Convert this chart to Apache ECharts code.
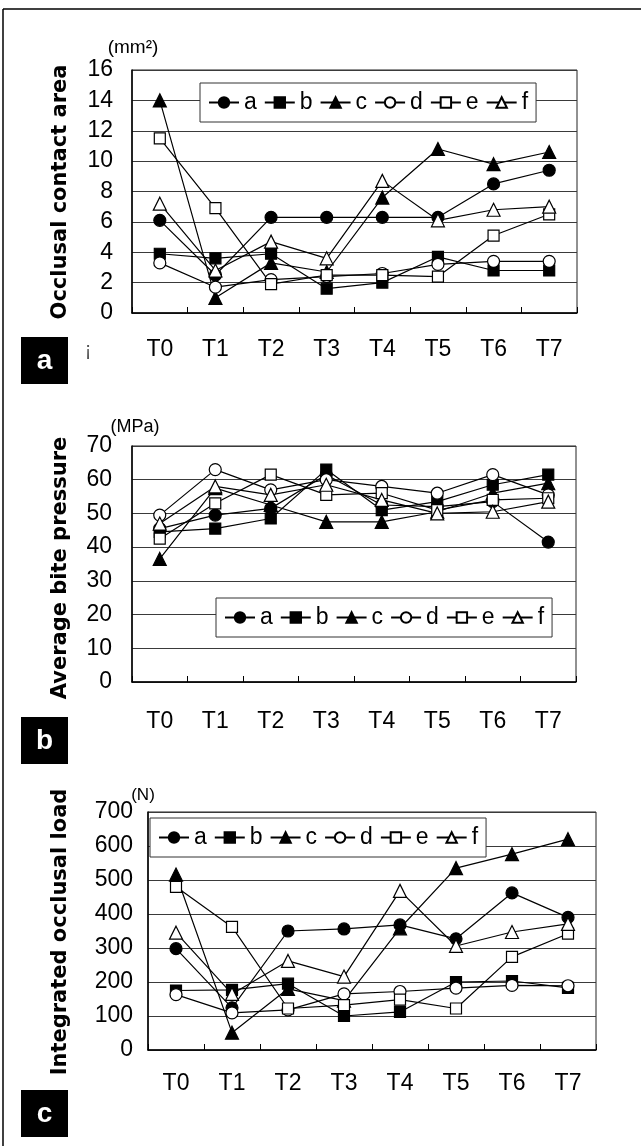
<!DOCTYPE html>
<html><head><meta charset="utf-8">
<script src="https://cdn.jsdelivr.net/npm/echarts@6/dist/echarts.min.js"></script>
<style>html,body{margin:0;padding:0;background:#fff}#c{width:641px;height:1146px}</style>
</head><body><div id="c"></div>
<script>
// ---- data ----
const categories = ['T0','T1','T2','T3','T4','T5','T6','T7'];
const seriesNames = ['a','b','c','d','e','f'];

// (a) Occlusal contact area (mm2)
const areaA = [6.1, 2.5, 6.3, 6.3, 6.3, 6.3, 8.5, 9.4];
const areaB = [3.9, 3.6, 3.9, 1.6, 2.0, 3.7, 2.8, 2.8];
const areaC = [14.0, 1.0, 3.3, 2.7, 7.6, 10.8, 9.8, 10.6];
const areaD = [3.3, 1.7, 2.2, 2.4, 2.6, 3.2, 3.4, 3.4];
const areaE = [11.5, 6.9, 1.9, 2.5, 2.5, 2.4, 5.1, 6.5];
const areaF = [7.2, 2.8, 4.7, 3.6, 8.7, 6.1, 6.8, 7.0];

// (b) Average bite pressure (MPa)
const pressA = [45.5, 49.5, 51.5, 61.5, 52.5, 52.0, 53.5, 41.5];
const pressB = [44.5, 45.5, 48.5, 63.0, 51.0, 53.5, 58.5, 61.5];
const pressC = [36.5, 57.5, 52.5, 47.5, 47.5, 50.5, 56.0, 59.0];
const pressD = [49.5, 63.0, 57.0, 60.0, 58.0, 56.0, 61.5, 55.5];
const pressE = [42.5, 53.0, 61.5, 55.5, 56.0, 51.0, 54.0, 54.5];
const pressF = [47.0, 58.0, 55.5, 58.5, 54.0, 50.0, 50.5, 53.5];

// (c) Integrated occlusal load (N)
const loadA = [298, 124, 350, 356, 368, 327, 462, 390];
const loadB = [175, 177, 195, 100, 112, 200, 203, 183];
const loadC = [516, 51, 180, 145, 358, 535, 576, 620];
const loadD = [163, 109, 118, 165, 172, 182, 190, 189];
const loadE = [480, 362, 122, 132, 148, 122, 274, 342];
const loadF = [345, 165, 262, 216, 468, 306, 347, 371];

const yTitles = ['Occlusal contact area', 'Average bite pressure', 'Integrated occlusal load'];
const units = ['(mm\u00B2)', '(MPa)', '(N)'];
const panelLetters = ['a', 'b', 'c'];

// ---- chart ----
const FONT = '"Liberation Sans", Arial, sans-serif';
const symbols = {a:'circle', b:'rect', c:'triangle', d:'circle', e:'rect', f:'triangle'};
const sizes = {circle:12, rect:11, triangle:13};
const fills = {a:'#000', b:'#000', c:'#000', d:'#fff', e:'#fff', f:'#fff'};

const panelData = [
  [areaA, areaB, areaC, areaD, areaE, areaF],
  [pressA, pressB, pressC, pressD, pressE, pressF],
  [loadA, loadB, loadC, loadD, loadE, loadF]
];

const grids = [
  {left:132, top:70, width:445, height:243, show:true, borderColor:'#222', borderWidth:1, backgroundColor:'transparent'},
  {left:132, top:446, width:444, height:236, show:true, borderColor:'#222', borderWidth:1, backgroundColor:'transparent'},
  {left:148, top:812, width:448, height:238, show:true, borderColor:'#222', borderWidth:1, backgroundColor:'transparent'}
];
const yCfg = [
  {min:0, max:16, interval:2, margin:19},
  {min:0, max:70, interval:10, margin:20},
  {min:0, max:700, interval:100, margin:15}
];
const xMargins = [25, 28, 22];

const xAxes = grids.map((g, i) => ({
  type:'category', gridIndex:i, data:categories, boundaryGap:true,
  axisLine:{show:true, lineStyle:{color:'#000', width:1.5}},
  axisTick:{show:true, inside:true, length:6, lineStyle:{color:'#000'}},
  axisLabel:{fontSize:23, fontFamily:FONT, color:'#000', margin:xMargins[i]},
  splitLine:{show:false}
}));
const yAxes = grids.map((g, i) => ({
  type:'value', gridIndex:i, min:yCfg[i].min, max:yCfg[i].max, interval:yCfg[i].interval,
  axisLine:{show:true, lineStyle:{color:'#000', width:1.5}},
  axisTick:{show:false},
  axisLabel:{fontSize:23, fontFamily:FONT, color:'#000', margin:yCfg[i].margin},
  splitLine:{show:true, lineStyle:{color:'#3a3a3a', width:1}}
}));

const series = [];
panelData.forEach((arrs, p) => {
  arrs.forEach((vals, k) => {
    const n = seriesNames[k];
    const sym = symbols[n];
    series.push({
      type:'line', name:n, xAxisIndex:p, yAxisIndex:p, data:vals,
      symbol:sym, symbolSize:sizes[sym], showAllSymbol:true,
      lineStyle:{color:'#000', width:1.2},
      itemStyle:{color:fills[n], borderColor:'#000', borderWidth:1.2},
      emphasis:{disabled:true}, animation:false
    });
  });
});

const legendPos = [{left:200, top:83}, {left:216, top:598}, {left:150, top:818}];
const legends = legendPos.map(p => ({
  left:p.left, top:p.top, data:seriesNames, orient:'horizontal',
  itemWidth:30, itemHeight:13, itemGap:7, padding:[8,8,8,8],
  borderColor:'#333', borderWidth:1, backgroundColor:'#fff',
  selectedMode:false,
  textStyle:{fontSize:23, fontFamily:FONT, color:'#000'}
}));

const titleCenters = [192, 568, 932];
const unitPos = [{x:133, y:48, s:19}, {x:135, y:427, s:18}, {x:143, y:795, s:17}];
const boxTops = [337, 717, 1090];

const graphic = [
  {type:'line', shape:{x1:3, y1:9, x2:641, y2:9}, style:{stroke:'#000', lineWidth:1.5}},
  {type:'line', shape:{x1:3, y1:9, x2:3, y2:1146}, style:{stroke:'#000', lineWidth:1.5}},
  {type:'text', x:88, y:350, style:{text:'\u00A1', font:'20px "Liberation Sans"', fill:'#555', textAlign:'center', textVerticalAlign:'middle'}}
];
yTitles.forEach((t, i) => {
  graphic.push({type:'text', x:61, y:titleCenters[i], rotation:Math.PI/2,
    style:{text:t, font:'bold 21px "DejaVu Sans"', fill:'#000', textAlign:'center', textVerticalAlign:'middle'}});
  graphic.push({type:'text', x:unitPos[i].x, y:unitPos[i].y,
    style:{text:units[i], font:unitPos[i].s + 'px "Liberation Sans"', fill:'#000', textAlign:'center', textVerticalAlign:'middle'}});
  graphic.push({type:'rect', shape:{x:21, y:boxTops[i], width:47, height:47}, style:{fill:'#000'}});
  graphic.push({type:'text', x:44.5, y:boxTops[i]+24,
    style:{text:panelLetters[i], font:'bold 28px "Liberation Sans"', fill:'#fff', textAlign:'center', textVerticalAlign:'middle'}});
});

const chart = echarts.init(document.getElementById('c'));
chart.setOption({
  animation:false,
  backgroundColor:'#fff',
  grid:grids, xAxis:xAxes, yAxis:yAxes, series:series, legend:legends, graphic:graphic
});
</script>
</body></html>
